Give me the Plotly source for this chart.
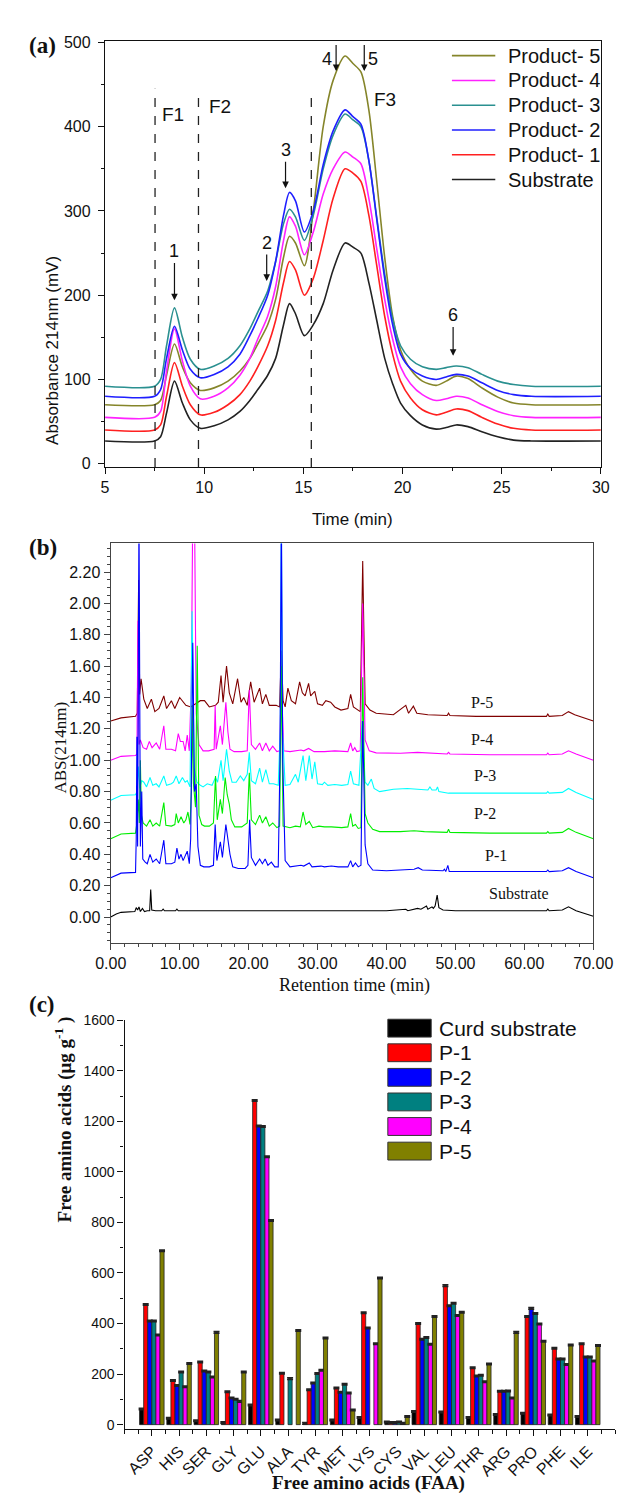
import plotly.graph_objects as go

W, H = 627, 1503


def px(xp):
    return xp / W


def py(yp):
    return 1 - yp / H


# ---------------- panel (a): size exclusion chromatograms ----------------
time_a = [5, 7.5, 7.8, 8.1, 8.5, 8.9, 9.3, 9.8, 10.5, 11.2, 11.8, 12.3, 12.7, 13.2,
          13.6, 14.0, 14.3, 14.6, 15.05, 15.5, 16.0, 16.5, 17.1, 17.5, 17.9, 18.3,
          18.7, 19.1, 19.5, 19.9, 20.4, 21.0, 21.7, 22.2, 22.7, 23.3, 24.0, 24.8,
          25.6, 26.5, 30]

substrate_a = [27, 27, 32, 60, 98, 72, 52, 42, 45, 52, 62, 75, 88, 105, 125, 165, 190,
               178, 152, 165, 190, 230, 262, 257, 250, 215, 170, 125, 95, 72, 57, 46,
               41, 43, 46, 44, 38, 32, 28, 27, 27]
product1_a = [40, 40, 46, 80, 120, 92, 70, 58, 61, 70, 82, 98, 115, 140, 170, 215, 240,
              230, 200, 220, 265, 315, 350, 345, 335, 295, 235, 175, 130, 98, 78, 64,
              58, 61, 65, 63, 55, 47, 42, 40, 40]
product2_a = [80, 80, 88, 125, 163, 135, 112, 102, 106, 115, 130, 152, 172, 200, 240,
              295, 322, 312, 275, 300, 355, 395, 420, 412, 403, 360, 290, 220, 165, 130,
              113, 104, 100, 103, 106, 104, 96, 87, 82, 80, 80]
product3_a = [92, 92, 100, 140, 185, 150, 124, 112, 116, 125, 140, 160, 180, 205, 240,
              285, 302, 293, 265, 295, 350, 390, 415, 408, 400, 360, 292, 225, 172, 140,
              124, 115, 112, 114, 116, 114, 106, 98, 94, 92, 92]
product4_a = [55, 55, 62, 110, 160, 122, 92, 77, 80, 90, 105, 125, 148, 175, 210, 265,
              293, 282, 248, 275, 320, 350, 370, 364, 356, 315, 255, 195, 148, 115, 95,
              82, 75, 77, 80, 78, 70, 62, 57, 55, 55]
product5_a = [70, 70, 75, 105, 142, 115, 96, 87, 90, 98, 110, 125, 142, 165, 195, 245,
              270, 262, 235, 300, 400, 455, 484, 475, 465, 420, 335, 245, 175, 135, 112,
              98, 93, 98, 104, 101, 90, 79, 72, 70, 70]

names_a = ["Product- 5", "Product- 4", "Product- 3", "Product- 2", "Product- 1", "Substrate"]
colors_a = ["#85852a", "#ff22ff", "#2a9090", "#1f1fff", "#ff2020", "#222222"]
series_a = [product5_a, product4_a, product3_a, product2_a, product1_a, substrate_a]

fraction_lines = [(7.52, 445), (9.71, 442), (15.4, 441)]
fraction_labels = [("F1", 8.45, 415), ("F2", 10.8, 424), ("F3", 19.1, 432)]
# label, x, label y, arrow tip y  (label sits on top of its arrow)
peak_marks = [("1", 8.5, 252, 194), ("2", 13.15, 262, 217), ("3", 14.1, 372, 327),
              ("6", 22.55, 176, 128)]
# label beside a short arrow: label, side of the label, arrow x, arrow top, arrow tip
side_marks = [("4", "right", 16.65, 497, 466), ("5", "left", 18.07, 497, 466)]

# ---------------- panel (b): RP-HPLC traces (time, absorbance) ----------------
p5_b = [(0, 1.25), (1.5, 1.27), (3.6, 1.28), (3.85, 1.30), (4.05, 2.15), (4.2, 1.42),
        (4.4, 1.52), (4.8, 1.39), (5.3, 1.33), (5.9, 1.39), (6.4, 1.31), (7.0, 1.33),
        (7.7, 1.41), (8.1, 1.33), (8.8, 1.38), (9.3, 1.33), (10.0, 1.40), (10.5, 1.37),
        (10.9, 1.35), (11.6, 1.34), (12.3, 1.36), (13.0, 1.38), (13.6, 1.38), (14.3, 1.34),
        (15.2, 1.35), (15.6, 1.37), (16.0, 1.54), (16.3, 1.37), (16.8, 1.60), (17.2, 1.43),
        (17.7, 1.36), (18.4, 1.52), (18.9, 1.37), (19.3, 1.40), (19.8, 1.35), (20.3, 1.50),
        (20.8, 1.37), (21.6, 1.46), (22.0, 1.36), (22.5, 1.42), (23.0, 1.35), (24.0, 1.35),
        (24.5, 1.34), (24.75, 1.70), (25.0, 1.38), (25.3, 1.34), (25.7, 1.46), (26.2, 1.38),
        (26.8, 1.36), (27.4, 1.50), (27.8, 1.43), (28.2, 1.41), (28.7, 1.49), (29.0, 1.41),
        (29.6, 1.44), (30.0, 1.36), (30.7, 1.35), (31.2, 1.38), (31.9, 1.37), (32.5, 1.34),
        (33.4, 1.32), (34.4, 1.33), (34.8, 1.42), (35.2, 1.34), (36.2, 1.31), (36.55, 2.27),
        (36.9, 1.36), (37.6, 1.32), (38.5, 1.30), (41.0, 1.29), (42.8, 1.35), (43.2, 1.30),
        (43.9, 1.345), (44.4, 1.30), (46.0, 1.29), (48.8, 1.285), (49.0, 1.30), (49.2, 1.285),
        (53.0, 1.28), (58.0, 1.28), (63.2, 1.28), (63.4, 1.295), (63.6, 1.28), (65.5, 1.285),
        (66.4, 1.31), (67.3, 1.29), (68.5, 1.27), (70.0, 1.25)]

p4_b = [(0, 1.00), (1.5, 1.025), (3.6, 1.03), (3.8, 1.04), (3.95, 1.89), (4.1, 1.10),
        (4.3, 1.13), (4.7, 1.08), (5.2, 1.07), (5.6, 1.12), (6.0, 1.08), (6.6, 1.11),
        (7.1, 1.07), (7.7, 1.22), (8.0, 1.07), (8.8, 1.07), (9.4, 1.06), (9.8, 1.17),
        (10.1, 1.12), (10.5, 1.12), (10.8, 1.06), (11.1, 1.16), (11.4, 1.06), (11.7, 1.5),
        (11.9, 2.6), (12.15, 2.6), (12.4, 1.3), (12.8, 1.10), (13.4, 1.06), (14.2, 1.06),
        (15.0, 1.07), (15.15, 1.35), (15.3, 1.07), (15.9, 1.22), (16.2, 1.10), (16.7, 1.37),
        (17.0, 1.18), (17.3, 1.07), (17.9, 1.055), (19.0, 1.055), (19.8, 1.06), (20.1, 1.45),
        (20.4, 1.10), (21.0, 1.07), (21.6, 1.11), (22.0, 1.06), (22.5, 1.11), (23.0, 1.06),
        (23.5, 1.09), (24.1, 1.055), (24.5, 1.06), (24.75, 1.5), (25.1, 1.06), (26.0, 1.055),
        (27.6, 1.065), (28.0, 1.06), (28.7, 1.075), (29.5, 1.055), (31.0, 1.055), (32.5, 1.06),
        (34.4, 1.055), (34.8, 1.11), (35.1, 1.06), (35.4, 1.08), (35.7, 1.055), (36.2, 1.06),
        (36.55, 2.00), (36.9, 1.13), (37.5, 1.06), (38.5, 1.047), (42.0, 1.045), (44.5, 1.05),
        (48.8, 1.04), (49.0, 1.05), (49.2, 1.04), (55.0, 1.035), (63.2, 1.035), (63.4, 1.045),
        (63.6, 1.035), (65.5, 1.04), (66.4, 1.06), (67.5, 1.04), (70.0, 1.00)]

p3_b = [(0, 0.745), (1.5, 0.775), (3.6, 0.78), (3.8, 0.80), (4.0, 0.96), (4.2, 0.82),
        (4.5, 0.87), (4.8, 0.86), (5.2, 0.83), (5.7, 0.89), (6.1, 0.84), (6.6, 0.85),
        (7.0, 0.83), (7.7, 0.90), (8.1, 0.84), (8.8, 0.85), (9.1, 0.86), (9.5, 0.90),
        (9.9, 0.85), (10.4, 0.89), (10.8, 0.86), (11.1, 0.87), (11.5, 0.83), (11.8, 1.95),
        (12.1, 0.95), (12.5, 0.86), (13.0, 0.84), (13.4, 0.83), (14.0, 0.85), (14.7, 0.84),
        (15.2, 0.89), (15.5, 0.86), (16.0, 1.00), (16.3, 0.87), (16.8, 1.07), (17.2, 0.93),
        (17.6, 0.86), (18.2, 0.86), (18.8, 0.90), (19.3, 0.87), (19.8, 0.91), (20.1, 1.05),
        (20.4, 0.87), (21.0, 0.85), (21.6, 0.95), (22.0, 0.86), (22.5, 0.94), (23.0, 0.85),
        (23.6, 0.85), (24.3, 0.84), (24.6, 1.2), (24.75, 2.6), (24.9, 1.2), (25.3, 0.84),
        (26.0, 0.845), (26.8, 0.91), (27.2, 0.86), (27.9, 1.03), (28.3, 0.87), (28.8, 1.03),
        (29.2, 0.88), (29.6, 0.99), (30.0, 0.85), (30.7, 0.845), (31.0, 0.86), (31.5, 0.84),
        (32.5, 0.845), (33.5, 0.84), (34.4, 0.845), (34.8, 0.93), (35.2, 0.85), (36.0, 0.84),
        (36.5, 1.25), (36.9, 0.86), (37.3, 0.84), (37.8, 0.88), (38.2, 0.82), (39.0, 0.80),
        (41.0, 0.815), (43.0, 0.82), (44.5, 0.815), (46.0, 0.81), (46.3, 0.83), (46.6, 0.81),
        (47.2, 0.81), (47.4, 0.83), (47.6, 0.80), (49.0, 0.79), (55.0, 0.79), (63.2, 0.79),
        (63.4, 0.80), (63.6, 0.79), (65.5, 0.795), (66.4, 0.82), (67.5, 0.795), (70.0, 0.75)]

p2_b = [(0, 0.50), (1.5, 0.53), (3.6, 0.535), (3.8, 0.60), (4.0, 0.75), (4.15, 0.60),
        (4.3, 1.00), (4.45, 0.65), (4.7, 0.60), (5.2, 0.58), (5.7, 0.62), (6.1, 0.58),
        (6.6, 0.60), (7.1, 0.58), (7.7, 0.73), (8.0, 0.585), (8.8, 0.58), (9.3, 0.59),
        (9.5, 0.66), (9.8, 0.60), (10.2, 0.64), (10.6, 0.60), (10.9, 0.62), (11.2, 0.67),
        (11.5, 0.59), (11.7, 0.80), (11.85, 1.35), (12.0, 0.85), (12.3, 0.70), (12.55, 1.73),
        (12.8, 0.65), (13.2, 0.59), (13.6, 0.58), (14.3, 0.58), (14.9, 0.60), (15.2, 0.90),
        (15.45, 0.62), (15.9, 0.75), (16.2, 0.66), (16.6, 0.89), (16.9, 0.78), (17.2, 0.72),
        (17.5, 0.62), (18.0, 0.575), (19.0, 0.575), (19.8, 0.60), (20.1, 0.92), (20.4, 0.62),
        (21.0, 0.59), (21.6, 0.65), (22.0, 0.60), (22.5, 0.64), (23.0, 0.58), (23.5, 0.60),
        (24.1, 0.57), (24.5, 0.58), (24.75, 1.6), (25.0, 0.58), (26.0, 0.57), (26.8, 0.58),
        (27.5, 0.575), (27.9, 0.67), (28.3, 0.59), (28.8, 0.61), (29.3, 0.57), (30.2, 0.58),
        (31.0, 0.575), (32.0, 0.575), (33.5, 0.57), (34.4, 0.575), (34.8, 0.66), (35.1, 0.58),
        (35.5, 0.59), (35.9, 0.565), (36.3, 0.57), (36.55, 1.53), (36.9, 0.66), (37.3, 0.60),
        (38.0, 0.56), (39.0, 0.545), (42.0, 0.545), (44.0, 0.55), (45.5, 0.545), (48.8, 0.54),
        (49.0, 0.56), (49.2, 0.54), (55.0, 0.535), (63.2, 0.535), (63.4, 0.545), (63.6, 0.535),
        (65.5, 0.54), (66.4, 0.565), (67.5, 0.54), (70.0, 0.50)]

p1_b = [(0, 0.25), (1.5, 0.28), (3.6, 0.285), (3.7, 0.50), (3.8, 1.15), (3.9, 0.45),
        (4.1, 2.6), (4.3, 0.45), (4.5, 0.80), (4.65, 0.37), (5.0, 0.35), (5.3, 0.34),
        (5.7, 0.40), (6.1, 0.35), (6.6, 0.37), (7.1, 0.34), (7.7, 0.49), (8.0, 0.34),
        (8.8, 0.34), (9.3, 0.35), (9.6, 0.44), (9.9, 0.37), (10.2, 0.40), (10.5, 0.36),
        (10.8, 0.39), (11.1, 0.42), (11.4, 0.34), (11.6, 0.50), (11.9, 1.75), (12.15, 0.80),
        (12.4, 0.85), (12.65, 0.45), (13.0, 0.33), (13.5, 0.32), (14.3, 0.32), (14.9, 0.33),
        (15.15, 0.59), (15.4, 0.36), (15.9, 0.48), (16.2, 0.38), (16.7, 0.59), (17.0, 0.50),
        (17.3, 0.40), (17.7, 0.32), (18.5, 0.31), (19.5, 0.31), (19.9, 0.33), (20.15, 0.62),
        (20.4, 0.38), (21.0, 0.33), (21.6, 0.37), (22.0, 0.34), (22.4, 0.37), (22.8, 0.33),
        (23.3, 0.35), (23.8, 0.32), (24.3, 0.32), (24.55, 1.0), (24.75, 2.6), (24.95, 1.0),
        (25.3, 0.36), (26.0, 0.32), (27.0, 0.325), (27.6, 0.33), (28.0, 0.325), (28.8, 0.345),
        (29.2, 0.32), (30.5, 0.325), (31.0, 0.32), (32.0, 0.325), (33.0, 0.32), (34.4, 0.32),
        (34.8, 0.36), (35.1, 0.32), (35.5, 0.345), (35.9, 0.32), (36.3, 0.33), (36.55, 1.25),
        (36.9, 0.46), (37.3, 0.34), (38.0, 0.30), (40.0, 0.295), (42.0, 0.30), (44.0, 0.305),
        (44.6, 0.315), (45.2, 0.30), (48.2, 0.295), (48.4, 0.305), (48.6, 0.29), (48.9, 0.33),
        (49.1, 0.29), (55.0, 0.29), (63.2, 0.29), (63.4, 0.30), (63.6, 0.29), (65.5, 0.295),
        (66.4, 0.315), (67.5, 0.29), (70.0, 0.25)]

substrate_b = [(0, 0.0), (0.8, 0.02), (1.5, 0.03), (3.5, 0.035), (3.7, 0.06), (3.9, 0.045),
               (4.1, 0.065), (4.3, 0.035), (4.6, 0.055), (4.9, 0.035), (5.3, 0.04),
               (5.65, 0.04), (5.8, 0.175), (5.95, 0.045), (6.5, 0.04), (7.4, 0.04),
               (7.6, 0.05), (7.8, 0.04), (9.4, 0.04), (9.6, 0.05), (9.8, 0.04), (15.0, 0.04),
               (25.0, 0.04), (35.0, 0.04), (40.0, 0.04), (42.8, 0.05), (43.1, 0.04),
               (44.5, 0.055), (45.0, 0.05), (45.8, 0.07), (46.0, 0.05), (46.6, 0.065),
               (46.8, 0.055), (47.05, 0.07), (47.35, 0.14), (47.6, 0.06), (48.2, 0.045),
               (50.0, 0.04), (63.2, 0.04), (63.4, 0.05), (63.6, 0.04), (65.5, 0.045),
               (66.4, 0.065), (67.5, 0.04), (69.0, 0.02), (70.0, 0.005)]

traces_b = [("Substrate", substrate_b, "#000000"), ("P-5", p5_b, "#800000"),
            ("P-4", p4_b, "#ff00ff"), ("P-3", p3_b, "#00ffff"),
            ("P-2", p2_b, "#00ee00"), ("P-1", p1_b, "#0000ff")]
labels_b = [("P-5", 52.0, 1.37), ("P-4", 52.0, 1.13), ("P-3", 52.4, 0.90),
            ("P-2", 52.4, 0.66), ("P-1", 54.0, 0.39), ("Substrate", 54.6, 0.15)]

# ---------------- panel (c): free amino acids ----------------
amino = ["ASP", "HIS", "SER", "GLY", "GLU", "ALA", "TYR", "MET", "LYS", "CYS",
         "VAL", "LEU", "THR", "ARG", "PRO", "PHE", "ILE"]
curd_c = [62, 25, 15, 8, 78, 18, 5, 18, 28, 10, 52, 50, 28, 40, 45, 38, 32]
p1_c = [475, 175, 248, 130, 1282, 203, 138, 145, 443, 8, 400, 550, 225, 132, 428, 302, 320]
p2_c = [410, 155, 212, 105, 1182, None, 165, 128, 382, 8, 338, 470, 192, 132, 460, 260, 268]
p3_c = [410, 208, 208, 100, 1180, 182, 202, 160, None, 10, 345, 480, 195, 133, 440, 260, 268]
p4_c = [355, 150, 188, 92, 1060, None, 215, 125, 320, 5, 318, 432, 170, 105, 398, 238, 252]
p5_c = [688, 242, 365, 208, 808, 372, 343, 58, 580, 32, 428, 445, 240, 365, 330, 315, 313]

names_c = ["Curd substrate", "P-1", "P-2", "P-3", "P-4", "P-5"]
colors_c = ["#000000", "#ff0000", "#0000ff", "#008080", "#ff00ff", "#808000"]
series_c = [curd_c, p1_c, p2_c, p3_c, p4_c, p5_c]

SANS = "Liberation Sans, Arial, sans-serif"
SERIF = "Liberation Serif, Times New Roman, serif"

fig = go.Figure()

for name, ys, col in zip(names_a, series_a, colors_a):
    fig.add_trace(go.Scatter(x=time_a, y=ys, mode="lines", name=name, showlegend=False,
                             line=dict(color=col, width=1.6, shape="spline", smoothing=0.8),
                             xaxis="x", yaxis="y"))

for name, pts, col in traces_b:
    fig.add_trace(go.Scatter(x=[p[0] for p in pts], y=[p[1] for p in pts], mode="lines",
                             name=name, showlegend=False, line=dict(color=col, width=1.1),
                             xaxis="x2", yaxis="y2"))

pos_c = list(range(len(amino)))
for name, ys, col in zip(names_c, series_c, colors_c):
    fig.add_trace(go.Bar(x=pos_c, y=ys, name=name, showlegend=False,
                         marker=dict(color=col, line=dict(color="#222", width=0.8)),
                         error_y=dict(type="constant", value=3, color="#222",
                                      thickness=1.5, width=3),
                         xaxis="x3", yaxis="y3"))

shapes = []
annotations = []

# panel (a) decorations
for xv, top in fraction_lines:
    shapes.append(dict(type="line", xref="x", yref="y", x0=xv, x1=xv, y0=-4, y1=top,
                       line=dict(color="#222", width=1.3, dash="dash")))
for txt, xv, yv in fraction_labels:
    annotations.append(dict(text=txt, x=xv, y=yv, xref="x", yref="y", showarrow=False,
                            font=dict(family=SANS, size=19, color="#111")))
for txt, xv, y_label, y_tip in peak_marks:
    annotations.append(dict(text=txt, x=xv, y=y_tip, ax=xv, ay=y_label, xref="x", yref="y",
                            axref="x", ayref="y", showarrow=True, arrowhead=2,
                            arrowsize=1.1, arrowwidth=1.2, arrowcolor="#111", standoff=0,
                            font=dict(family=SANS, size=18, color="#111")))
# the label box hangs beside the arrow's top end, the arrow runs down its edge
for txt, side, xv, y_top, y_tip in side_marks:
    annotations.append(dict(text=txt, x=xv, y=y_tip, ax=xv, ay=y_top, xref="x", yref="y",
                            axref="x", ayref="y", xanchor=side, yanchor="top",
                            showarrow=True, arrowhead=2, arrowsize=1.1, arrowwidth=1.2,
                            arrowcolor="#111", borderpad=3,
                            font=dict(family=SANS, size=18, color="#111")))

# legend (a), drawn by hand to match the long line keys
for i, (name, col) in enumerate(zip(names_a, colors_a)):
    yc = 40 + 25 * i
    shapes.append(dict(type="line", xref="paper", yref="paper", x0=px(454), x1=px(500),
                       y0=py(yc), y1=py(yc), line=dict(color=col, width=1.6)))
    annotations.append(dict(text=name, x=px(511), y=py(yc), xref="paper", yref="paper",
                            xanchor="left", yanchor="middle", showarrow=False,
                            font=dict(family=SANS, size=20, color="#111")))

# panel (b) trace labels
for txt, xv, yv in labels_b:
    annotations.append(dict(text=txt, x=xv, y=yv, xref="x2", yref="y2", showarrow=False,
                            xanchor="left", font=dict(family=SERIF, size=16, color="#111")))

# legend (c)
for i, (name, col) in enumerate(zip(names_c, colors_c)):
    yc = 1021 + 24.8 * i
    shapes.append(dict(type="rect", xref="paper", yref="paper", x0=px(386), x1=px(432),
                       y0=py(yc + 9), y1=py(yc - 9), fillcolor=col,
                       line=dict(color="#333", width=1)))
    annotations.append(dict(text=name, x=px(438), y=py(yc), xref="paper", yref="paper",
                            xanchor="left", yanchor="middle", showarrow=False,
                            font=dict(family=SANS, size=21, color="#111")))

# panel letters and axis titles
for txt, yp in [("(a)", 15), ("(b)", 536), ("(c)", 1012)]:
    annotations.append(dict(text="<b>" + txt + "</b>", x=px(3), y=py(yp), xref="paper",
                            yref="paper", xanchor="left", showarrow=False,
                            font=dict(family=SERIF, size=23, color="#111")))

titles = [
    ("Absorbance 214nm (mV)", 18, 240, -90, SANS, 17),
    ("Time (min)", 349, 496, 0, SANS, 17),
    ("ABS(214nm)", 27, 738, -90, SERIF, 17),
    ("Retention time (min)", 351, 978, 0, SERIF, 18),
    ("<b>Free amino acids (μg g<sup>-1</sup> )</b>", 27, 1219, -90, SERIF, 19),
    ("<b>Free amino acids (FAA)</b>", 365, 1493, 0, SERIF, 19),
]
for txt, xp, yp, ang, fam, sz in titles:
    annotations.append(dict(text=txt, x=px(xp), y=py(yp), xref="paper", yref="paper",
                            textangle=ang, showarrow=False,
                            font=dict(family=fam, size=sz, color="#111")))

frame = dict(showline=True, linecolor="#111", linewidth=1.4, mirror=True, showgrid=False,
             zeroline=False, ticks="outside", tickcolor="#111", tickwidth=1.3, ticklen=6,
             tickfont=dict(family=SANS, size=16, color="#111"))
frame_b = dict(frame, linecolor="#444", tickcolor="#444")

fig.update_layout(
    width=W, height=H, margin=dict(l=0, r=0, t=0, b=0),
    paper_bgcolor="white", plot_bgcolor="white",
    barmode="group", bargap=0.1, bargroupgap=0,
    xaxis=dict(frame, domain=[px(86), px(612)], range=[5, 30], dtick=5, tick0=5,
               minor=dict(ticks="outside", ticklen=3, dtick=2.5, tickcolor="#111"),
               anchor="y"),
    yaxis=dict(frame, domain=[py(455), py(25)], range=[-4, 502], dtick=100, tick0=0,
               minor=dict(ticks="outside", ticklen=3, dtick=50, tickcolor="#111"),
               anchor="x", ticklabelstandoff=4),
    xaxis2=dict(frame_b, domain=[px(92), px(604)], range=[0, 70], dtick=10, tick0=0,
                tickformat=".2f",
                minor=dict(ticks="outside", ticklen=3, dtick=2, tickcolor="#444"),
                anchor="y2"),
    yaxis2=dict(frame_b, domain=[py(935), py(532)], range=[-0.165, 2.383], dtick=0.2,
                tick0=0, tickformat=".2f",
                minor=dict(ticks="outside", ticklen=3, dtick=0.05, tickcolor="#444"),
                anchor="x2"),
    xaxis3=dict(showline=True, linecolor="#111", linewidth=1.4, mirror=False,
                showgrid=False, zeroline=False, ticks="outside", ticklen=6, tickwidth=1.3,
                tickcolor="#111", range=[-1, 17], tickvals=pos_c, ticktext=amino,
                tickangle=-45, tickfont=dict(family=SANS, size=16, color="#111"),
                minor=dict(ticks="outside", ticklen=4, dtick=0.5, tick0=-1,
                           tickcolor="#111"),
                domain=[px(106.7), 1.0], anchor="y3"),
    yaxis3=dict(showline=True, linecolor="#111", linewidth=1.4, mirror=False,
                showgrid=False, zeroline=False, ticks="outside", ticklen=6, tickwidth=1.3,
                tickcolor="#111", range=[-16, 1600], dtick=200, tick0=0,
                tickfont=dict(family=SANS, size=14, color="#111"),
                minor=dict(ticks="outside", ticklen=3, dtick=100, tickcolor="#111"),
                domain=[py(1425), py(1013)], anchor="x3"),
    shapes=shapes, annotations=annotations,
)

fig.write_html("out.html")
